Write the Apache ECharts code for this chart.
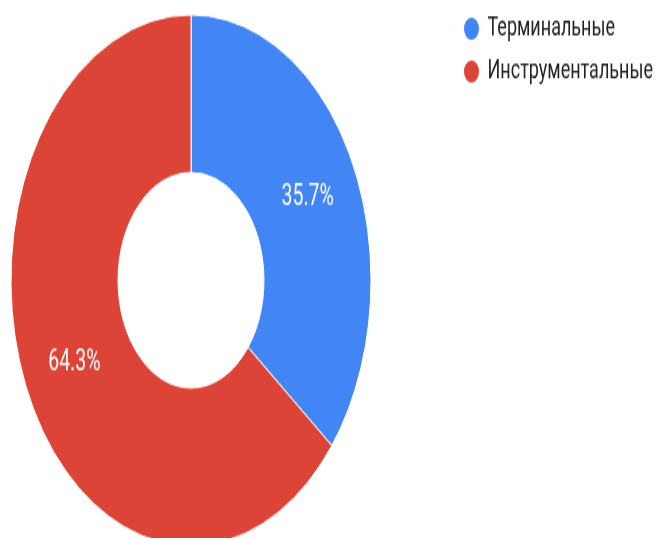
<!DOCTYPE html>
<html>
<head>
	<meta charset="UTF-8">
	<title></title>
	<style>
		html, body { margin: 0; padding: 0; background: #fff; overflow: hidden; }
		#wrap { width: 659px; height: 539px; overflow: hidden; }
		#chart {
			width: 659px;
			height: 365px;
			transform: scaleY(1.475);
			transform-origin: 0 0;
		}
	</style>
	<script src="https://cdn.jsdelivr.net/npm/echarts@6/dist/echarts.min.js"></script>
</head>
<body>
	<div id="wrap"><div id="chart"></div></div>
	<script>
		var categories = ['Терминальные', 'Инструментальные'];
		var values = [35.7, 64.3];
		var colors = ['#4285f4', '#db4437'];

		var data = categories.map(function (name, i) {
			return { name: name, value: values[i], itemStyle: { color: colors[i] } };
		});

		var myChart = echarts.init(document.getElementById('chart'));
		myChart.setOption({
			animation: false,
			legend: {
				orient: 'vertical',
				left: 462,
				top: 10,
				padding: 0,
				itemGap: 10,
				itemWidth: 22,
				itemHeight: 17,
				icon: 'circle',
				data: categories,
				textStyle: {
					fontFamily: 'Roboto',
					fontSize: 18,
					color: '#222'
				}
			},
			series: [
				{
					type: 'pie',
					center: [191, 190],
					radius: [73, 180],
					startAngle: 90,
					clockwise: true,
					data: data,
					itemStyle: {
						borderColor: '#fff',
						borderWidth: 1
					},
					label: {
						show: true,
						position: 'inside',
						formatter: function (p) { return p.value.toFixed(1) + '%'; },
						fontFamily: 'Roboto',
						fontSize: 19.5,
						color: '#fff'
					},
					labelLine: { show: false },
					emphasis: { disabled: true }
				}
			]
		});
	</script>
</body>
</html>
